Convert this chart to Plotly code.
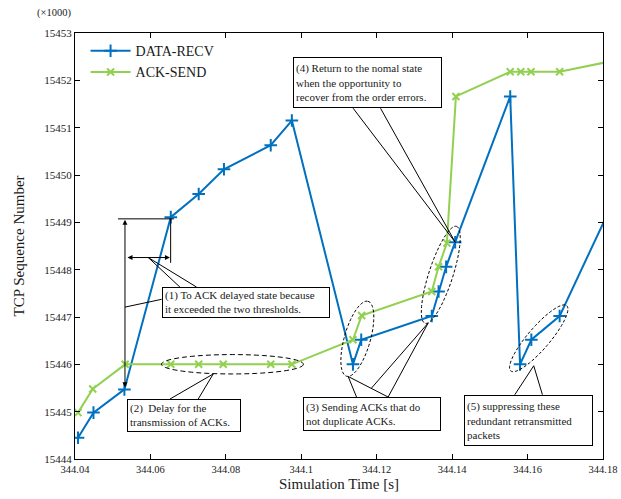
import math
import plotly.graph_objects as go

# ---------------- data ----------------
time_data = [344.0408, 344.0449, 344.0531, 344.0654, 344.0728, 344.0795, 344.0919, 344.0975,
             344.1137, 344.1159, 344.1346, 344.1364, 344.1384, 344.1408, 344.1554, 344.1580,
             344.1610, 344.1685, 344.1825]
seq_data = [15444.45, 15444.98, 15445.47, 15449.11, 15449.60, 15450.12, 15450.63, 15451.15,
            15446.00, 15446.52, 15447.02, 15447.54, 15448.06, 15448.58, 15451.66, 15446.00,
            15446.52, 15447.02, 15449.40]

time_ack = [344.0408, 344.0447, 344.0533, 344.0654, 344.0728, 344.0793, 344.0919, 344.0975,
            344.1137, 344.1160, 344.1346, 344.1364, 344.1386, 344.1410, 344.1554, 344.1582,
            344.1609, 344.1685, 344.1825]
seq_ack = [15444.98, 15445.48, 15446.00, 15446.00, 15446.00, 15446.00, 15446.00, 15446.00,
           15446.52, 15447.03, 15447.54, 15448.06, 15448.56, 15451.66, 15452.18, 15452.18,
           15452.18, 15452.18, 15452.41]

x_ticks = [344.04, 344.06, 344.08, 344.10, 344.12, 344.14, 344.16, 344.18]
x_tick_labels = ["344.04", "344.06", "344.08", "344.1", "344.12", "344.14", "344.16", "344.18"]
y_ticks = [15444, 15445, 15446, 15447, 15448, 15449, 15450, 15451, 15452, 15453]
y_tick_labels = [str(v) for v in y_ticks]

BLUE = "#0070C0"
GREEN = "#92D050"
FONT = "Liberation Serif"
TXT = "#1a1a1a"

W, H = 621, 499
ML, MR, MT, MB = 75, 18, 33, 40
PW, PH = W - ML - MR, H - MT - MB

# ------------- helpers for annotation geometry (reference pixel -> data) -------------
X0, X1, PX0, PX1 = 344.04, 344.18, 75.0, 603.3
Y0, Y1, PY0, PY1 = 15453.0, 15444.0, 33.0, 459.3


def dx(px):
    return X0 + (px - PX0) / (PX1 - PX0) * (X1 - X0)


def dy(py):
    return Y0 + (py - PY0) / (PY1 - PY0) * (Y1 - Y0)


def ellipse_path(cx, cy, a, b, ang_deg, n=72):
    th = math.radians(ang_deg)
    pts = []
    for i in range(n):
        t = 2 * math.pi * i / n
        u = a * math.cos(t)
        v = b * math.sin(t)
        px = cx + u * math.sin(th) + v * math.cos(th)
        py = cy - u * math.cos(th) + v * math.sin(th)
        pts.append((dx(px), dy(py)))
    return "M " + " L ".join(f"{x:.6f},{y:.5f}" for x, y in pts) + " Z"


fig = go.Figure()

fig.add_trace(go.Scatter(
    x=time_data, y=seq_data, name="DATA-RECV", mode="lines+markers",
    line=dict(color=BLUE, width=2),
    marker=dict(symbol="cross-thin", size=9, line=dict(color=BLUE, width=2), color=BLUE),
))
fig.add_trace(go.Scatter(
    x=time_ack, y=seq_ack, name="ACK-SEND", mode="lines+markers",
    line=dict(color=GREEN, width=2),
    marker=dict(symbol="x-thin", size=7, line=dict(color=GREEN, width=2), color=GREEN),
))

shapes = []


def seg(p1, p2, width=1, color="black"):
    shapes.append(dict(type="line", xref="x", yref="y",
                       x0=dx(p1[0]), y0=dy(p1[1]), x1=dx(p2[0]), y1=dy(p2[1]),
                       line=dict(color=color, width=width)))


def ell(cx, cy, a, b, ang, dash="3px,2px"):
    shapes.append(dict(type="path", xref="x", yref="y", path=ellipse_path(cx, cy, a, b, ang),
                       line=dict(color="black", width=1, dash=dash)))


# (1) dimension lines
seg((118, 219), (174, 219))
seg((170.7, 219), (170.7, 263))
seg((148.3, 257.7), (180, 287.3))
seg((148.3, 257.7), (196.7, 287.3))
seg((125, 307.3), (161.7, 299.5))
# (2)
ell(232.5, 364.5, 71, 9.7, 90, dash="5px,3px")
seg((213.3, 374.2), (170, 399.3))
seg((213.3, 374.2), (198.3, 399.3))
# (3)
ell(357.5, 339, 39, 13, 16)
ell(441, 275, 51, 12, 18)
seg((348.3, 376.7), (356.7, 397.3))
seg((348.3, 376.7), (388.3, 397.3))
seg((428.3, 323.3), (371.7, 388.3))
seg((428.3, 323.3), (388.3, 397.3))
# (4)
seg((353.3, 108.3), (455.5, 242.5))
seg((380.7, 108.3), (455.5, 242.5))
# (5)
ell(539, 338.5, 43, 11, 40.6)
seg((534, 366), (515, 395))
seg((534, 366), (542.7, 395))

annotations = []


def arrow2(p_head, p_tail):
    annotations.append(dict(x=dx(p_head[0]), y=dy(p_head[1]), ax=dx(p_tail[0]), ay=dy(p_tail[1]),
                            xref="x", yref="y", axref="x", ayref="y", text="",
                            showarrow=True, arrowhead=2, startarrowhead=2, arrowside="end+start",
                            arrowsize=1, startarrowsize=1, arrowwidth=1, arrowcolor="black"))


arrow2((125, 220), (125, 389))
arrow2((170, 257.7), (126, 257.7))


def box(left, top, w, h, text):
    annotations.append(dict(x=dx(left), y=dy(top), xref="x", yref="y", xanchor="left", yanchor="top",
                            text=text, showarrow=False, align="left", valign="middle",
                            width=w - 6, height=h - 6, borderpad=2,
                            bordercolor="black", borderwidth=1, bgcolor="white",
                            font=dict(family=FONT, size=11, color=TXT)))


box(161.7, 287.3, 168, 30.5, "(1) To ACK delayed state because<br>it exceeded the two thresholds.")
box(126.7, 399.3, 113.5, 32.5, "(2)  Delay for the<br>transmission of ACKs.")
box(303, 397.3, 137.5, 33.5, "(3) Sending ACKs that do<br>not duplicate ACKs.")
box(292.7, 57.3, 149, 51, "(4) Return to the nomal state<br>when the opportunity to<br>recover from the order errors.")
box(464.3, 395, 128.5, 51, "(5) suppressing these<br>redundant retransmitted<br>packets")

annotations.append(dict(x=(54 - 75) / PW, y=1 + (33 - 12.5) / PH, xref="paper", yref="paper",
                        text="(×1000)", showarrow=False, xanchor="center", yanchor="middle",
                        font=dict(family=FONT, size=10.5, color=TXT)))

fig.update_layout(
    width=W, height=H,
    margin=dict(l=ML, r=MR, t=MT, b=MB, autoexpand=False),
    paper_bgcolor="white", plot_bgcolor="white",
    font=dict(family=FONT, color=TXT),
    showlegend=True,
    legend=dict(x=0.02, y=0.995, xanchor="left", yanchor="top", bgcolor="rgba(0,0,0,0)",
                font=dict(family=FONT, size=14, color=TXT), tracegroupgap=0,
                itemwidth=40),
    shapes=shapes,
    annotations=annotations,
    xaxis=dict(range=[344.04, 344.18], tickvals=x_ticks, ticktext=x_tick_labels,
               ticks="inside", ticklen=5, tickcolor="black", showline=True, linecolor="black",
               linewidth=1, mirror="ticks", showgrid=False, zeroline=False,
               tickfont=dict(family=FONT, size=10.5, color=TXT),
               title=dict(text="Simulation Time [s]", font=dict(family=FONT, size=15, color=TXT),
                          standoff=4)),
    yaxis=dict(range=[15444, 15453], tickvals=y_ticks, ticktext=y_tick_labels,
               ticks="inside", ticklen=5, tickcolor="black", showline=True, linecolor="black",
               linewidth=1, mirror="ticks", showgrid=False, zeroline=False,
               tickfont=dict(family=FONT, size=11, color=TXT),
               title=dict(text="TCP Sequence Number", font=dict(family=FONT, size=15, color=TXT),
                          standoff=16)),
)

fig.write_html(
    "out.html",
    config={"displayModeBar": False},
    post_script="document.body.style.margin='0px';document.body.style.overflow='hidden';",
)
